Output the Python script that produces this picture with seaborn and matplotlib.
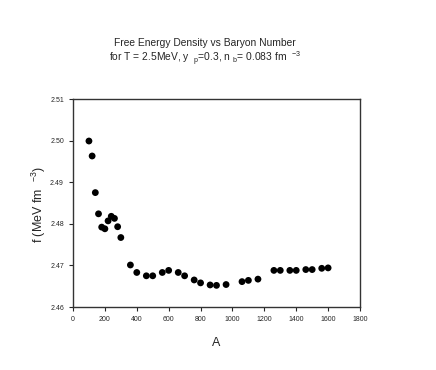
import pandas as pd
import matplotlib as mpl
import matplotlib.pyplot as plt
import seaborn as sns

sns.set_style("ticks")
mpl.rcParams["font.family"] = ["Liberation Sans", "DejaVu Sans"]
mpl.rcParams["mathtext.fontset"] = "custom"
mpl.rcParams["mathtext.rm"] = "Liberation Sans"

A = [100, 120, 140, 160, 180, 200, 220, 240, 260, 280, 300,
     360, 400, 460, 500, 560, 600, 660, 700, 760, 800, 860, 900, 960,
     1060, 1100, 1160, 1260, 1300, 1360, 1400, 1460, 1500, 1560, 1600]
f = [2.4999, 2.4963, 2.4875, 2.4824, 2.4792, 2.4788, 2.4807, 2.4818, 2.4813, 2.4793, 2.4767,
     2.4701, 2.4683, 2.4675, 2.4675, 2.4683, 2.4688, 2.4683, 2.4675, 2.4665, 2.4658, 2.4653, 2.4652, 2.4654,
     2.4661, 2.4664, 2.4667, 2.4688, 2.4688, 2.4688, 2.4688, 2.4690, 2.4690, 2.4693, 2.4694]
df = pd.DataFrame({"A": A, "f": f})

fig = plt.figure(figsize=(4.36, 3.70), dpi=100)
ax = fig.add_axes([73/436, 1 - 307/370, (360 - 73)/436, (307 - 99)/370])

sns.scatterplot(data=df, x="A", y="f", ax=ax, color="black", s=24, edgecolor="none")

ax.set_xlim(0, 1800)
ax.set_ylim(2.46, 2.51)
ax.set_xticks(range(0, 1801, 200))
ax.set_yticks([2.46, 2.47, 2.48, 2.49, 2.50, 2.51])
ax.set_yticklabels(["2.46", "2.47", "2.48", "2.49", "2.50", "2.51"])
ax.tick_params(labelsize=5, length=3, width=0.8, direction="out", top=False, right=False)
for sp in ax.spines.values():
    sp.set_linewidth(1.0)
    sp.set_color("#333333")

ax.set_xlabel("A", fontsize=9, labelpad=10)
ax.set_ylabel("")
fig.text(38.5/436, 1 - 205/370, r"f (MeV fm  $^{-3}$)", rotation=90,
         ha="center", va="center", fontsize=9)

fig.text(205/436, 1 - 43/370, "Free Energy Density vs Baryon Number",
         ha="center", va="center", fontsize=7.4)
fig.text(205/436, 1 - 59/370,
         r"for T = 2.5MeV, y  $_{\rm p}$=0.3, n $_{\rm b}$= 0.083 fm  $^{-3}$",
         ha="center", va="center", fontsize=7.4)

fig.savefig("out.png", dpi=100)
